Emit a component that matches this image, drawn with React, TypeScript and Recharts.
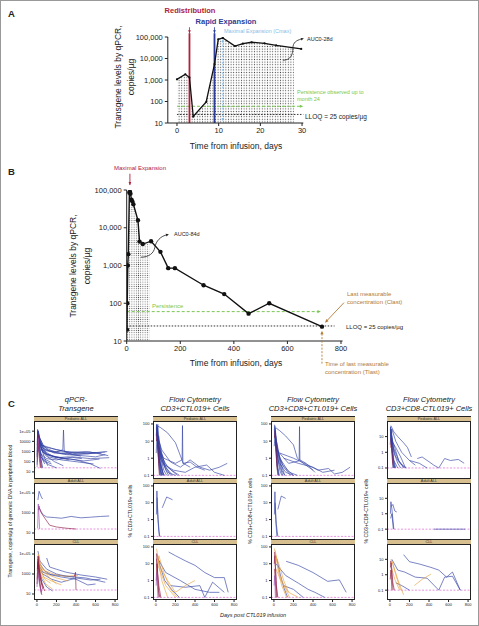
import React from "react";
import { ComposedChart, LineChart, Line, Area, XAxis, YAxis, ReferenceLine, ReferenceDot } from "recharts";

const FONT = "'Liberation Sans', Arial, Helvetica, sans-serif";

// ---- Panel A: one patient, first 30 days ----
const aDays = [0, 2, 3, 3.9, 7, 9, 9.9, 11, 13.9, 15.8, 17.9, 21, 23.8, 29.8];
const aLevels = [1070, 1850, 1300, 20, 95, 5500, 78000, 90000, 38000, 49000, 57000, 51000, 41000, 28000];
const aAucEnd = 28;
const aLevelAtAucEnd = 31000;
const aTicksX = [0, 10, 20, 30];

// ---- Panel B: same patient, full follow-up ----
const bDays = [1, 2, 4, 6, 10, 12, 14, 18, 21, 25, 42, 48, 60, 91, 126, 155, 180, 287, 364, 455, 532, 729];
const bLevels = [20, 100, 1000, 2000, 85000, 90000, 80000, 55000, 50000, 42000, 15800, 4300, 3700, 4400, 2300, 850, 850, 300, 175, 53, 100, 24];
const bAucEnd = 84;
const bLevelAtAucEnd = 4300;
const bTicksX = [0, 200, 400, 600, 800];

const levelTicks = [10, 100, 1000, 10000, 100000];
const LLOQ = 25;
const PERSISTENCE_LEVEL = 60;
const REDISTRIBUTION_DAY = 3;
const RAPID_EXPANSION_DAY = 9;
const CMAX_DAY = 11;
const CMAX = 90000;
const TLAST = 729;
const CLAST = 24;

// ---- Panel C: per-patient profiles ----
type Series = { g: string; p: number[][] };

const qpcrPediatric: Series[] = [
  { g: "CR", p: [[10, 60000], [30, 20000], [60, 5000], [100, 2000], [200, 800], [300, 500], [450, 400], [600, 300], [700, 500]] },
  { g: "CR", p: [[7, 100000], [14, 50000], [28, 8000], [90, 1500], [180, 700], [365, 600], [540, 900], [730, 400]] },
  { g: "CR", p: [[5, 20000], [10, 80000], [21, 10000], [60, 1000], [120, 300], [250, 150], [400, 100], [580, 60]] },
  { g: "CR", p: [[3, 500], [14, 30000], [28, 3000], [90, 400], [180, 100], [270, 40]] },
  { g: "CR", p: [[14, 30000], [60, 2000], [180, 800], [265, 1500], [272, 130000], [280, 1000], [365, 500], [450, 350]] },
  { g: "CR", p: [[7, 40000], [20, 5000], [40, 200], [60, 25]] },
  { g: "CR", p: [[10, 15000], [28, 2000], [90, 600], [200, 300], [400, 150], [550, 60], [650, 22]] },
  { g: "CR", p: [[5, 10000], [14, 100000], [30, 20000], [70, 3000], [150, 2000], [300, 1000], [500, 700], [700, 900]] },
  { g: "CR", p: [[3, 1000], [10, 30000], [20, 1500], [40, 100], [50, 25]] },
  { g: "CR", p: [[14, 8000], [40, 600], [100, 200], [200, 150], [365, 300], [550, 200], [740, 250]] },
  { g: "CR", p: [[20, 5000], [100, 3000], [200, 1500], [350, 800], [520, 600], [720, 1000]] },
  { g: "CR", p: [[7, 70000], [28, 2000], [60, 150], [120, 50], [200, 25]] },
  { g: "CR", p: [[2, 300], [7, 150000], [21, 30000], [45, 4000], [90, 900], [160, 350], [300, 200], [480, 120], [640, 180]] },
  { g: "CR", p: [[4, 2000], [12, 60000], [25, 900], [45, 80]] },
  { g: "CR", p: [[6, 5000], [18, 12000], [35, 400], [80, 60]] },
  { g: "CR", p: [[8, 90000], [16, 8000], [40, 3000], [75, 300], [110, 40]] },
  { g: "CR", p: [[3, 4000], [9, 120000], [20, 20000], [50, 2000], [100, 600], [180, 300], [260, 200]] },
  { g: "CR", p: [[6, 800], [13, 40000], [27, 6000], [60, 800], [130, 400], [230, 250], [330, 150]] },
  { g: "CR", p: [[4, 15000], [11, 50000], [30, 800], [70, 200], [140, 90]] },
  { g: "CR", p: [[10, 3000], [25, 25000], [50, 5000], [120, 1200], [250, 600], [420, 500], [600, 700]] },
  { g: "CR", p: [[2, 50], [8, 9000], [16, 70000], [35, 3000], [100, 500], [200, 250], [320, 300], [460, 200]] },
  { g: "CR", p: [[5, 6000], [15, 2000], [40, 300], [90, 100], [150, 60]] },
  { g: "CR", p: [[12, 100000], [30, 10000], [80, 1200], [200, 1000], [330, 800], [500, 1000], [660, 600]] },
  { g: "NR", p: [[3, 200], [10, 50000], [20, 3000], [40, 25]] },
  { g: "NR", p: [[5, 100], [12, 10000], [25, 200], [35, 25]] },
  { g: "EARLY", p: [[2, 30], [14, 20000], [28, 500], [50, 25]] },
];
const qpcrAdult: Series[] = [
  { g: "CR", p: [[10, 20000], [22, 150000], [45, 40000], [58, 25000]] },
  { g: "CR", p: [[25, 3000], [60, 700], [100, 400], [180, 350], [250, 300], [350, 450], [450, 330], [550, 380], [650, 450], [740, 500]] },
  { g: "NR", p: [[14, 2000], [21, 5000], [35, 1500], [60, 600], [130, 60], [200, 40], [300, 30], [400, 25]] },
  { g: "EARLY", p: [[7, 30], [14, 8000], [21, 500], [28, 25]] },
];
const qpcrCll: Series[] = [
  { g: "CR", p: [[100, 40000], [130, 5000], [200, 3000], [300, 1500], [450, 800], [600, 500], [720, 300]] },
  { g: "CR", p: [[10, 200000], [30, 20000], [100, 3000], [200, 1000], [300, 600], [500, 400], [700, 150]] },
  { g: "CR", p: [[14, 5000], [60, 1000], [150, 300], [250, 150], [400, 400], [550, 250], [650, 300]] },
  { g: "CR", p: [[20, 3000], [50, 300], [100, 50], [160, 20]] },
  { g: "CR", p: [[30, 10000], [80, 2000], [150, 800], [250, 500], [400, 300], [520, 80], [600, 100]] },
  { g: "CR", p: [[7, 60000], [20, 8000], [60, 1500], [130, 900], [250, 700], [380, 500]] },
  { g: "PR", p: [[7, 30000], [14, 100000], [30, 10000], [60, 2000], [120, 500], [200, 100]] },
  { g: "PR", p: [[10, 20000], [28, 3000], [70, 500], [150, 200], [250, 80]] },
  { g: "PR", p: [[5, 1000], [20, 50000], [40, 8000], [100, 1000], [200, 400], [320, 200]] },
  { g: "PR", p: [[14, 10000], [40, 1000], [90, 100], [160, 30]] },
  { g: "PR", p: [[28, 5000], [90, 2000], [180, 900], [280, 600], [420, 700]] },
  { g: "PR", p: [[4, 3000], [12, 40000], [35, 3000], [80, 300], [140, 120]] },
  { g: "NR", p: [[3, 300], [10, 30000], [20, 5000], [40, 200], [60, 30]] },
  { g: "NR", p: [[5, 1000], [14, 60000], [28, 2000], [50, 100], [80, 20]] },
  { g: "NR", p: [[2, 100], [10, 8000], [30, 500], [70, 40]] },
  { g: "NR", p: [[7, 500], [14, 20000], [21, 1000], [35, 50], [50, 8]] },
  { g: "NR", p: [[4, 2000], [9, 15000], [18, 800], [30, 100], [45, 15]] },
  { g: "NR", p: [[380, 500], [395, 1500], [400, 25]] },
  { g: "EARLY", p: [[1, 50], [7, 3000], [21, 200], [45, 10]] },
];

const cd3Pediatric: Series[] = [
  { g: "CR", p: [[10, 80], [50, 60], [120, 30], [200, 8], [240, 2], [280, 0.5], [350, 0.3]] },
  { g: "CR", p: [[7, 50], [20, 5], [40, 0.5], [60, 0.1]] },
  { g: "CR", p: [[14, 30], [30, 3], [50, 0.3], [70, 0.1]] },
  { g: "CR", p: [[5, 10], [28, 20], [60, 1], [100, 0.2], [130, 0.1]] },
  { g: "CR", p: [[20, 5], [80, 1], [200, 0.5], [268, 0.8], [272, 80], [276, 0.5], [350, 0.6], [420, 0.3], [500, 0.2]] },
  { g: "CR", p: [[10, 60], [20, 8], [45, 0.2], [55, 0.1]] },
  { g: "CR", p: [[14, 20], [60, 3], [150, 0.6], [250, 0.3], [350, 0.8], [450, 0.3], [550, 0.2], [650, 0.3], [730, 0.5]] },
  { g: "CR", p: [[7, 40], [28, 1], [70, 0.15], [90, 0.1]] },
  { g: "CR", p: [[20, 100], [30, 10], [90, 0.4], [180, 0.2], [300, 0.15], [400, 0.3], [520, 0.4], [600, 0.15], [700, 0.1]] },
  { g: "CR", p: [[3, 2], [14, 70], [28, 0.5], [40, 0.1]] },
  { g: "CR", p: [[10, 15], [40, 2], [120, 0.3], [220, 0.1]] },
  { g: "CR", p: [[5, 90], [12, 30], [35, 0.8], [80, 0.1]] },
  { g: "CR", p: [[8, 25], [25, 6], [70, 0.6], [150, 0.1]] },
  { g: "CR", p: [[4, 60], [12, 15], [30, 0.5], [50, 0.1]] },
  { g: "CR", p: [[6, 100], [15, 50], [40, 2], [80, 0.2], [110, 0.1]] },
  { g: "CR", p: [[9, 30], [22, 10], [55, 1], [100, 0.3], [170, 0.1]] },
  { g: "CR", p: [[3, 20], [10, 90], [25, 2], [45, 0.2], [65, 0.1]] },
  { g: "CR", p: [[12, 40], [35, 4], [90, 0.5], [160, 0.2], [240, 0.1]] },
  { g: "CR", p: [[7, 70], [18, 20], [40, 1.5], [75, 0.1]] },
  { g: "CR", p: [[15, 10], [50, 0.8], [120, 0.15], [200, 0.1]] },
  { g: "NR", p: [[7, 10], [14, 30], [25, 1], [35, 0.1]] },
];
const cd3Adult: Series[] = [
  { g: "CR", p: [[5, 2], [10, 50], [20, 1], [30, 0.2], [40, 0.1]] },
  { g: "CR", p: [[12, 20], [20, 2], [35, 0.1]] },
  { g: "CR", p: [[65, 5], [110, 22], [170, 15]] },
];
const cd3Cll: Series[] = [
  { g: "CR", p: [[130, 50], [200, 30], [300, 15], [400, 8], [500, 3], [600, 1.5], [700, 1.5], [740, 0.2]] },
  { g: "CR", p: [[20, 20], [100, 3], [250, 1], [400, 0.3], [550, 0.2], [650, 0.2]] },
  { g: "CR", p: [[150, 0.5], [300, 0.4], [450, 0.5], [500, 0.1], [580, 0.8], [700, 0.2]] },
  { g: "CR", p: [[10, 40], [40, 8], [90, 1], [160, 0.3], [240, 0.1]] },
  { g: "PR", p: [[7, 80], [20, 20], [60, 1], [120, 0.1]] },
  { g: "PR", p: [[10, 30], [50, 5], [120, 1], [200, 0.2], [300, 0.5], [400, 1]] },
  { g: "PR", p: [[14, 10], [100, 0.5], [200, 0.1]] },
  { g: "PR", p: [[5, 2], [30, 30], [80, 3], [150, 0.3], [220, 0.1]] },
  { g: "NR", p: [[5, 20], [14, 5], [30, 0.5], [50, 0.1]] },
  { g: "NR", p: [[3, 1], [10, 10], [25, 0.3], [40, 0.1]] },
  { g: "NR", p: [[6, 40], [12, 8], [20, 1], [30, 0.1]] },
  { g: "EARLY", p: [[2, 0.5], [10, 3], [20, 0.1]] },
];

const cd8posPediatric: Series[] = [
  { g: "CR", p: [[20, 60], [60, 40], [120, 20], [200, 6], [240, 1], [300, 0.5], [400, 0.2]] },
  { g: "CR", p: [[30, 3], [150, 0.5], [258, 0.7], [262, 70], [266, 0.8], [330, 0.5], [420, 0.15]] },
  { g: "CR", p: [[60, 2], [200, 1], [350, 0.4], [450, 0.2], [560, 0.25], [620, 0.12], [700, 0.15], [780, 0.3]] },
  { g: "CR", p: [[100, 1], [250, 0.5], [400, 0.3], [500, 0.15], [620, 0.2]] },
  { g: "CR", p: [[5, 70], [20, 5], [40, 0.3], [55, 0.1]] },
  { g: "CR", p: [[10, 40], [25, 3], [60, 0.2], [80, 0.1]] },
  { g: "CR", p: [[7, 20], [30, 8], [70, 0.5], [110, 0.1]] },
  { g: "CR", p: [[14, 60], [28, 1], [45, 0.1]] },
  { g: "CR", p: [[3, 5], [14, 30], [40, 0.8], [90, 0.1]] },
  { g: "CR", p: [[20, 10], [60, 1], [140, 0.2], [200, 0.1]] },
  { g: "CR", p: [[10, 80], [18, 10], [35, 0.2]] },
  { g: "CR", p: [[4, 50], [12, 12], [30, 0.4], [50, 0.1]] },
  { g: "CR", p: [[6, 90], [15, 40], [40, 2], [80, 0.2], [110, 0.1]] },
  { g: "CR", p: [[9, 25], [22, 8], [55, 1], [100, 0.3], [170, 0.1]] },
  { g: "CR", p: [[12, 35], [35, 3], [90, 0.4], [160, 0.15], [240, 0.1]] },
  { g: "CR", p: [[15, 8], [50, 0.6], [120, 0.15], [200, 0.1]] },
  { g: "NR", p: [[7, 15], [14, 40], [28, 0.5], [40, 0.1]] },
];
const cd8posAdult: Series[] = [
  { g: "CR", p: [[5, 2], [10, 45], [18, 1], [30, 0.1]] },
  { g: "CR", p: [[12, 10], [25, 0.5], [40, 0.1]] },
  { g: "CR", p: [[40, 4], [75, 25], [120, 18]] },
];
const cd8posCll: Series[] = [
  { g: "CR", p: [[125, 14], [250, 8], [400, 3], [550, 0.9], [670, 1.1], [740, 0.2]] },
  { g: "CR", p: [[20, 10], [120, 2], [250, 0.7], [350, 0.3], [420, 0.2], [520, 0.1]] },
  { g: "CR", p: [[100, 0.5], [200, 0.3], [300, 0.1]] },
  { g: "CR", p: [[30, 20], [60, 3], [100, 0.4], [140, 0.1]] },
  { g: "PR", p: [[5, 80], [20, 30], [60, 2], [120, 0.3], [160, 0.1]] },
  { g: "PR", p: [[10, 40], [50, 10], [100, 1], [150, 0.2]] },
  { g: "PR", p: [[14, 60], [40, 5], [80, 0.5], [130, 0.1]] },
  { g: "PR", p: [[20, 5], [70, 1], [150, 0.2], [250, 0.1]] },
  { g: "NR", p: [[3, 10], [10, 30], [25, 0.5], [40, 0.1]] },
  { g: "NR", p: [[5, 5], [14, 1], [25, 0.1]] },
  { g: "NR", p: [[6, 50], [12, 10], [22, 1], [32, 0.1]] },
  { g: "EARLY", p: [[2, 0.5], [8, 2], [15, 0.1]] },
];

const cd8negPediatric: Series[] = [
  { g: "CR", p: [[10, 50], [40, 20], [80, 10], [140, 4], [180, 2], [220, 0.5]] },
  { g: "CR", p: [[20, 30], [60, 5], [120, 1], [200, 0.3], [260, 0.15]] },
  { g: "CR", p: [[280, 0.4], [330, 0.5], [400, 0.25], [450, 0.15], [500, 0.1], [560, 0.4], [620, 0.3], [700, 0.35], [760, 0.2]] },
  { g: "CR", p: [[200, 0.3], [300, 0.2], [380, 0.1]] },
  { g: "CR", p: [[5, 40], [20, 2], [40, 0.1]] },
  { g: "CR", p: [[7, 20], [25, 1], [50, 0.1]] },
  { g: "CR", p: [[10, 8], [30, 0.5], [60, 0.1]] },
  { g: "CR", p: [[3, 3], [14, 30], [40, 0.3], [80, 0.1]] },
  { g: "CR", p: [[14, 10], [40, 3], [90, 0.3], [140, 0.1]] },
  { g: "CR", p: [[7, 40], [14, 5], [30, 0.1]] },
  { g: "CR", p: [[20, 5], [60, 2], [110, 0.5], [160, 0.1]] },
  { g: "CR", p: [[4, 30], [12, 8], [30, 0.3], [50, 0.1]] },
  { g: "CR", p: [[6, 45], [15, 15], [40, 1], [80, 0.2], [110, 0.1]] },
  { g: "CR", p: [[9, 12], [22, 4], [55, 0.6], [100, 0.2], [170, 0.1]] },
  { g: "CR", p: [[12, 20], [35, 2], [90, 0.3], [150, 0.1]] },
  { g: "NR", p: [[7, 2], [14, 8], [28, 0.2], [40, 0.1]] },
];
const cd8negAdult: Series[] = [
  { g: "CR", p: [[5, 1], [10, 6], [20, 2], [40, 0.1]] },
  { g: "CR", p: [[14, 3], [30, 4], [50, 1.5], [70, 1.3]] },
  { g: "CR", p: [[7, 0.5], [20, 1], [35, 0.1]] },
  { g: "CR", p: [[450, 0.1], [770, 0.1]] },
];
const cd8negCll: Series[] = [
  { g: "CR", p: [[140, 20], [200, 7], [300, 5], [420, 3], [500, 2], [580, 0.7], [640, 1.5], [720, 0.1]] },
  { g: "CR", p: [[20, 10], [80, 2], [150, 1.5], [260, 0.7], [380, 0.6], [500, 0.1], [560, 0.7], [640, 0.8], [720, 0.1]] },
  { g: "CR", p: [[60, 0.3], [120, 0.2], [200, 0.1]] },
  { g: "PR", p: [[250, 0.2], [330, 0.5], [420, 1.1]] },
  { g: "PR", p: [[10, 10], [30, 5], [80, 0.5], [140, 0.05]] },
  { g: "PR", p: [[5, 5], [20, 8], [60, 1], [110, 0.1]] },
  { g: "PR", p: [[14, 3], [50, 0.5], [100, 0.1]] },
  { g: "NR", p: [[5, 3], [14, 6], [30, 0.3], [45, 0.1]] },
  { g: "NR", p: [[3, 0.5], [10, 2], [20, 0.1]] },
  { g: "NR", p: [[6, 8], [12, 3], [22, 0.5], [32, 0.1]] },
];

const facetRows = ["Pediatric ALL", "Adult ALL", "CLL"];
const cDaysTicks = [0, 200, 400, 600, 800];
const copiesTicks = [10, 100, 1000, 10000, 100000];
const pctTicks = [0.1, 1, 10, 100];
const pctTicksLow = [0.1, 1, 10];

const GROUP_COLOR: Record<string, string> = { CR: "#2f3fa2", PR: "#e8a040", NR: "#8e1c42", EARLY: "#9a4fae" };

const columns = [
  { left: 33, title: ["qPCR-", "Transgene"], yLabel: "Transgene, copies/µg of genomic DNA in peripheral blood", yLabelX: 10, rows: [qpcrPediatric, qpcrAdult, qpcrCll], domain: [2.5, 8e5], ticks: copiesTicks, lloq: 25, copies: true },
  { left: 152, title: ["Flow Cytometry", "CD3+CTL019+ Cells"], yLabel: "% CD3+CTL019+ cells", yLabelX: 130, rows: [cd3Pediatric, cd3Adult, cd3Cll], domain: [0.07, 130], ticks: pctTicks, lloq: 0.1, copies: false },
  { left: 270, title: ["Flow Cytometry", "CD3+CD8+CTL019+ Cells"], yLabel: "% CD3+CD8+CTL019+ cells", yLabelX: 250, rows: [cd8posPediatric, cd8posAdult, cd8posCll], domain: [0.07, 130], ticks: pctTicks, lloq: 0.1, copies: false },
  { left: 386, title: ["Flow Cytometry", "CD3+CD8-CTL019+ Cells"], yLabel: "% CD3+CD8-CTL019+ cells", yLabelX: 366, rows: [cd8negPediatric, cd8negAdult, cd8negCll], domain: [0.023, 85], ticks: pctTicksLow, lloq: 0.1, copies: false },
];
const COL_W = 84;
const STRIP_TOPS = [415, 477, 538];
const STRIP_H = 6;
const PLOT_BOTTOMS = [477, 538, 599];

function buildRows(days: number[], levels: number[], aucEnd: number, aucLevel: number) {
  const rows: { d: number; v?: number; auc?: number }[] = days.map((d, i) => ({ d, v: levels[i], auc: d <= aucEnd ? levels[i] : undefined }));
  rows.push({ d: aucEnd, auc: aucLevel });
  return rows.sort((p, q) => p.d - q.d);
}
const aRows = buildRows(aDays, aLevels, aAucEnd, aLevelAtAucEnd);
const bRows = buildRows(bDays, bLevels, bAucEnd, bLevelAtAucEnd);

function head(x: number, y: number, ux: number, uy: number, s: number, c: string) {
  const len = Math.hypot(ux, uy) || 1;
  const ax = ux / len, ay = uy / len;
  const bx = x - ax * s, by = y - ay * s;
  const px = -ay * s * 0.45, py = ax * s * 0.45;
  return <polygon points={`${x},${y} ${bx + px},${by + py} ${bx - px},${by - py}`} fill={c} />;
}

function T({ x, y, s = 7, c = "#222", b, i, a = "left", r, children }: any) {
  const tx = a === "center" || r ? "-50%" : a === "right" ? "-100%" : "0";
  return (
    <div style={{ position: "absolute", left: x, top: y, transform: `translate(${tx},-50%)${r ? " rotate(-90deg)" : ""}`, fontSize: s, color: c, fontWeight: b ? 700 : 400, fontStyle: i ? "italic" : "normal", whiteSpace: "nowrap", lineHeight: 1, fontFamily: FONT }}>
      {children}
    </div>
  );
}

const fmtLevel = (v: number) => v.toLocaleString("en-US");

// vertical event line with a small arrow on top
const eventShape = (color: string) => (p: any) => {
  const top = Math.min(p.y1, p.y2), bot = Math.max(p.y1, p.y2);
  return (
    <g>
      <line x1={p.x1} y1={bot} x2={p.x1} y2={top} stroke={color} strokeWidth={1.8} />
      <line x1={p.x1} y1={top - 6} x2={p.x1} y2={top} stroke={color} strokeWidth={0.8} />
      {head(p.x1, top, 0, 1, 3, color)}
    </g>
  );
};
const hArrowShape = (color: string, dash: string) => (p: any) => (
  <g>
    <line x1={p.x1} y1={p.y1} x2={p.x2 - 2} y2={p.y2} stroke={color} strokeWidth={1} strokeDasharray={dash} />
    {head(p.x2, p.y2, 1, 0, 3.5, color)}
  </g>
);

const AXIS_W = 40;
const AXIS_H = 20;

function PanelA() {
  return (
    <div style={{ position: "absolute", left: 0, top: 0 }}>
      <ComposedChart width={479} height={160} data={aRows} margin={{ top: 36, left: 166.8 - AXIS_W, right: 176.7, bottom: 38 - AXIS_H }}>
        <defs>
          <pattern id="dotsA" width="2.6" height="2.6" patternUnits="userSpaceOnUse">
            <rect width="2.6" height="2.6" fill="#fff" />
            <circle cx="1.3" cy="1.3" r="0.55" fill="#444" />
          </pattern>
        </defs>
        <XAxis type="number" dataKey="d" domain={[-2.2, 30.3]} ticks={aTicksX} height={AXIS_H} tickSize={3} stroke="#222" tick={{ fontSize: 7.5, fill: "#222", fontFamily: FONT }} allowDataOverflow />
        <YAxis scale="log" domain={[10, 100000]} ticks={levelTicks} width={AXIS_W} tickSize={3} stroke="#222" tickFormatter={fmtLevel} tick={{ fontSize: 7.5, fill: "#222", fontFamily: FONT }} allowDataOverflow />
        <Area dataKey="auc" baseValue={10} fill="url(#dotsA)" fillOpacity={1} stroke="none" isAnimationActive={false} />
        <ReferenceLine segment={[{ x: 0, y: LLOQ }, { x: 30.3, y: LLOQ }]} ifOverflow="visible" stroke="#333" strokeWidth={1} strokeDasharray="1.5 1.5" />
        <ReferenceLine segment={[{ x: 0, y: PERSISTENCE_LEVEL }, { x: 30.3, y: PERSISTENCE_LEVEL }]} ifOverflow="visible" shape={hArrowShape("#78c850", "3 2")} />
        <ReferenceLine segment={[{ x: REDISTRIBUTION_DAY, y: 10 }, { x: REDISTRIBUTION_DAY, y: 1.5e5 }]} ifOverflow="visible" shape={eventShape("#b0203a")} />
        <ReferenceLine segment={[{ x: RAPID_EXPANSION_DAY, y: 10 }, { x: RAPID_EXPANSION_DAY, y: 1.5e5 }]} ifOverflow="visible" shape={eventShape("#2c3c98")} />
        <ReferenceLine
          segment={[{ x: CMAX_DAY, y: 12 }, { x: CMAX_DAY, y: CMAX }]}
          ifOverflow="visible"
          shape={(p: any) => {
            const top = Math.min(p.y1, p.y2) + 1, bot = Math.max(p.y1, p.y2);
            return (
              <g>
                <line x1={p.x1} y1={top + 2} x2={p.x1} y2={bot - 2} stroke="#86bde8" strokeWidth={1} strokeDasharray="2 1.5" />
                {head(p.x1, top, 0, -1, 3, "#86bde8")}
                {head(p.x1, bot, 0, 1, 3, "#86bde8")}
              </g>
            );
          }}
        />
        <Line dataKey="v" connectNulls stroke="#111" strokeWidth={1.3} dot={{ r: 1.1, fill: "#111", stroke: "none" }} isAnimationActive={false} />
        <ReferenceDot
          x={25.4}
          y={8300}
          ifOverflow="visible"
          shape={(p: any) => (
            <g>
              <path d={`M${p.cx},${p.cy} C${p.cx + 8},${p.cy} ${p.cx + 10},${p.cy - 6} ${p.cx + 10},${p.cy - 12} S${p.cx + 14},${p.cy - 20} ${p.cx + 18},${p.cy - 21}`} fill="none" stroke="#222" strokeWidth={0.8} />
              {head(p.cx + 21, p.cy - 22, 3, -1, 3, "#222")}
            </g>
          )}
        />
      </ComposedChart>
    </div>
  );
}

function PanelB() {
  return (
    <div style={{ position: "absolute", left: 0, top: 170 }}>
      <ComposedChart width={479} height={200} data={bRows} margin={{ top: 19, left: 125.7 - AXIS_W, right: 137.4, bottom: 30 - AXIS_H }}>
        <defs>
          <pattern id="dotsB" width="2.2" height="2.2" patternUnits="userSpaceOnUse">
            <rect width="2.2" height="2.2" fill="#fff" />
            <circle cx="1.1" cy="1.1" r="0.5" fill="#444" />
          </pattern>
        </defs>
        <XAxis type="number" dataKey="d" domain={[0, 806]} ticks={bTicksX} height={AXIS_H} tickSize={3} stroke="#222" tick={{ fontSize: 7.5, fill: "#222", fontFamily: FONT }} allowDataOverflow />
        <YAxis scale="log" domain={[10, 100000]} ticks={levelTicks} width={AXIS_W} tickSize={3} stroke="#222" tickFormatter={fmtLevel} tick={{ fontSize: 7.5, fill: "#222", fontFamily: FONT }} allowDataOverflow />
        <Area dataKey="auc" baseValue={10} fill="url(#dotsB)" fillOpacity={1} stroke="none" isAnimationActive={false} />
        <ReferenceLine segment={[{ x: 0, y: LLOQ }, { x: 776, y: LLOQ }]} ifOverflow="visible" stroke="#333" strokeWidth={1} strokeDasharray="1.5 1.5" />
        <ReferenceLine segment={[{ x: 0, y: PERSISTENCE_LEVEL }, { x: 725, y: PERSISTENCE_LEVEL }]} ifOverflow="visible" shape={hArrowShape("#78c850", "3 2")} />
        <ReferenceLine
          segment={[{ x: 12, y: 2.7e5 }, { x: 12, y: 1.35e5 }]}
          ifOverflow="visible"
          shape={(p: any) => {
            const top = Math.min(p.y1, p.y2), bot = Math.max(p.y1, p.y2);
            return (
              <g>
                <line x1={p.x1} y1={top} x2={p.x1} y2={bot} stroke="#b0203a" strokeWidth={0.9} />
                {head(p.x1, bot, 0, 1, 3, "#b0203a")}
              </g>
            );
          }}
        />
        <Line dataKey="v" connectNulls stroke="#111" strokeWidth={1.4} dot={{ r: 2.2, fill: "#111", stroke: "none" }} isAnimationActive={false} />
        <ReferenceDot
          x={53}
          y={1660}
          ifOverflow="visible"
          shape={(p: any) => (
            <g>
              <path d={`M${p.cx},${p.cy} C${p.cx + 8},${p.cy} ${p.cx + 13},${p.cy - 4} ${p.cx + 14},${p.cy - 10} S${p.cx + 20},${p.cy - 21} ${p.cx + 25},${p.cy - 22}`} fill="none" stroke="#222" strokeWidth={0.8} />
              {head(p.cx + 28, p.cy - 23, 3, -1, 3, "#222")}
            </g>
          )}
        />
        <ReferenceDot
          x={TLAST}
          y={CLAST}
          ifOverflow="visible"
          shape={(p: any) => (
            <g>
              <line x1={p.cx + 22} y1={p.cy - 24} x2={p.cx + 5} y2={p.cy - 6} stroke="#b27a36" strokeWidth={0.9} />
              {head(p.cx + 3, p.cy - 4, -1, 1, 3.5, "#b27a36")}
              <line x1={p.cx} y1={p.cy + 37} x2={p.cx} y2={p.cy + 7} stroke="#b27a36" strokeWidth={0.9} strokeDasharray="2 1.5" />
              {head(p.cx, p.cy + 4, 0, -1, 3.5, "#b27a36")}
            </g>
          )}
        />
      </ComposedChart>
    </div>
  );
}

function Facet({ left, top, bottom, series, domain, ticks, lloq, copies, showX }: any) {
  const YW = 20, RW = 4, XH = 10;
  const ML = 4, MR = 2, MT = 1, MB = showX ? 2 : 2 + XH;
  const h = bottom - top;
  return (
    <div style={{ position: "absolute", left: left - ML - YW, top: top - MT }}>
      <LineChart width={COL_W + ML + YW + MR + RW} height={h + MT + 2 + XH} margin={{ left: ML, right: MR, top: MT, bottom: MB }}>
        <XAxis type="number" dataKey="d" domain={[-30, 830]} ticks={cDaysTicks} hide={!showX} height={XH} axisLine={false} tickSize={2} tickMargin={1.5} stroke="#222" tick={{ fontSize: 4, fill: "#222", fontFamily: FONT }} allowDataOverflow />
        <YAxis scale="log" domain={domain} ticks={ticks} width={YW} axisLine={false} tickSize={2} tickMargin={1.5} stroke="#222" tickFormatter={(v: number) => (copies && v >= 100000 ? "1e+05" : String(v))} tick={{ fontSize: 4, fill: "#222", fontFamily: FONT }} allowDataOverflow />
        <YAxis yAxisId="r" orientation="right" scale="log" domain={domain} ticks={ticks} width={RW} axisLine={false} tickSize={2} stroke="#222" tick={false} allowDataOverflow />
        <ReferenceLine y={lloq} stroke="#e27ada" strokeWidth={0.8} strokeDasharray="2 1.5" />
        {series.map((s: Series, i: number) => (
          <Line key={i} data={s.p.map(([d, v]) => ({ d, v }))} dataKey="v" stroke={GROUP_COLOR[s.g]} strokeOpacity={0.85} strokeWidth={0.75} dot={false} isAnimationActive={false} />
        ))}
      </LineChart>
    </div>
  );
}

function PanelC() {
  return (
    <>
      {columns.map((col, ci) => (
        <React.Fragment key={ci}>
          <T x={col.left + COL_W / 2} y={399} s={7.5} i a="center">{col.title[0]}</T>
          <T x={col.left + COL_W / 2} y={407.5} s={7.5} i a="center">{col.title[1]}</T>
          <T x={col.yLabelX} y={510} s={5.2} r>{col.yLabel}</T>
          {col.rows.map((series, ri) => (
            <Facet key={ri} left={col.left} top={STRIP_TOPS[ri] + STRIP_H} bottom={PLOT_BOTTOMS[ri]} series={series} domain={col.domain} ticks={col.ticks} lloq={col.lloq} copies={col.copies} showX={ri === 2} />
          ))}
          <div style={{ position: "absolute", left: col.left, top: STRIP_TOPS[0], width: COL_W, height: PLOT_BOTTOMS[2] - STRIP_TOPS[0], border: "1px solid #222", boxSizing: "border-box" }} />
          {facetRows.map((name, ri) => (
            <div key={name} style={{ position: "absolute", left: col.left, top: STRIP_TOPS[ri], width: COL_W, height: STRIP_H, background: "#d7bf8f", borderTop: "1px solid #222", borderBottom: "1px solid #222", boxSizing: "border-box", fontSize: 3.8, lineHeight: "4px", textAlign: "center", color: "#333", fontFamily: FONT }}>
              {name}
            </div>
          ))}
        </React.Fragment>
      ))}
      <T x={252} y={615} s={5.5} i a="center">Days post CTL019 infusion</T>
    </>
  );
}

export default function App() {
  return (
    <div style={{ position: "absolute", left: 0, top: 0, width: 479, height: 626, background: "#fff", border: "1px solid #999", boxSizing: "border-box", fontFamily: FONT, overflow: "hidden" }}>
      <PanelA />
      <PanelB />
      <PanelC />

      <T x={7} y={13} s={9.5} b>A</T>
      <T x={189} y={10} s={7.5} b c="#b0203a" a="center">Redistribution</T>
      <T x={225} y={21} s={7.5} b c="#2c3c98" a="center">Rapid Expansion</T>
      <T x={223} y={30.5} s={5.5} c="#86bde8">Maximal Expansion (Cmax)</T>
      <T x={306} y={39} s={5.5}>AUC0-28d</T>
      <T x={296} y={92} s={5.5} c="#78c850">Persistence observed up to</T>
      <T x={296} y={99} s={5.5} c="#78c850">month 24</T>
      <T x={304} y={116} s={6.5}>LLOQ = 25 copies/µg</T>
      <T x={117} y={76} s={8.5} r>Transgene levels by qPCR,</T>
      <T x={130} y={76} s={8.5} r>copies/µg</T>
      <T x={235} y={145} s={8.5} a="center">Time from infusion, days</T>

      <T x={7} y={171} s={9.5} b>B</T>
      <T x={139} y={167} s={6} c="#b0203a" a="center">Maximal Expansion</T>
      <T x={173} y={234} s={5.5}>AUC0-84d</T>
      <T x={151} y={305} s={6} c="#78c850">Persistence</T>
      <T x={346} y={293} s={6} c="#b27a36">Last measurable</T>
      <T x={346} y={301} s={6} c="#b27a36">concentration (Clast)</T>
      <T x={345} y={326} s={6}>LLOQ = 25 copies/µg</T>
      <T x={324} y={363} s={6} c="#b27a36">Time of last measurable</T>
      <T x={324} y={371} s={6} c="#b27a36">concentration (Tlast)</T>
      <T x={72} y={265} s={8.5} r>Transgene levels by qPCR,</T>
      <T x={86} y={265} s={8.5} r>copies/µg</T>
      <T x={235} y={362} s={8.5} a="center">Time from infusion, days</T>

      <T x={7} y={403} s={9.5} b>C</T>
    </div>
  );
}
